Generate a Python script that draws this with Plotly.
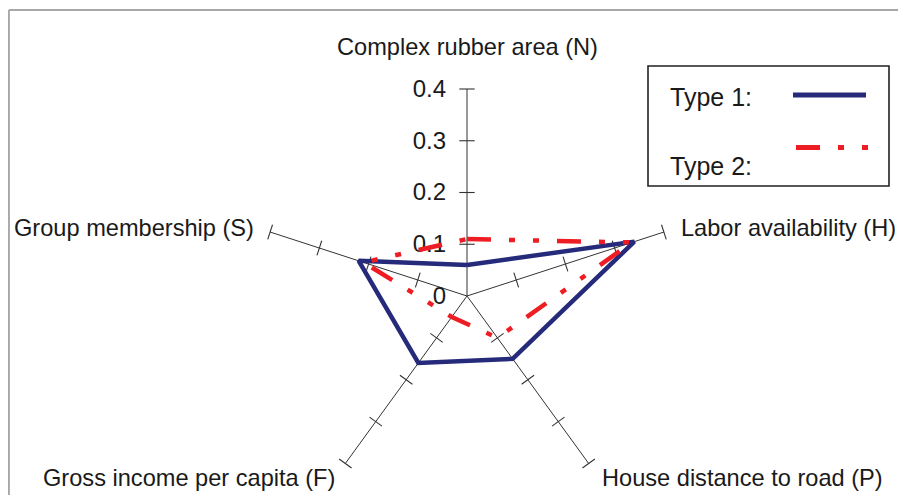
import plotly.graph_objects as go

# ---- data ----
categories = ["Complex rubber area (N)", "Labor availability (H)",
              "House distance to road (P)", "Gross income per capita (F)",
              "Group membership (S)"]
type1_values = [0.06, 0.34, 0.15, 0.16, 0.22]
type2_values = [0.11, 0.335, 0.10, 0.05, 0.21]
radial_tickvals = [0, 0.1, 0.2, 0.3, 0.4]
radial_ticktext = ["0", "0.1", "0.2", "0.3", "0.4"]
series_names = ["Type 1:", "Type 2:"]

# ---- style ----
W, H = 906, 495
OFF = 8  # page body margin offset
BLUE = "#262a7b"
RED = "#ee1d23"
AXIS = "#333333"
TEXT = "#1a1a1a"
FONT = "Liberation Sans, Arial, sans-serif"
RED_DASH = "24px,18px,6px,18px,6px,18px"


def px(x):
    return (x - OFF) / W


def py(y):
    return 1 - (y - OFF) / H


cx, cy = 467 - OFF, 296 - OFF
R = H - cy
dom_x = [(cx - R) / W, (cx + R) / W]
dom_y = [0.0, 1 - (cy - R) / H]


def closed(v):
    return list(v) + [v[0]]


fig = go.Figure()

# spoke tick marks at each radial tick value
tick_r, tick_t, tick_ang = [], [], []
for i, c in enumerate(categories):
    for v in radial_tickvals[1:]:
        tick_r.append(v)
        tick_t.append(c)
        tick_ang.append(72 * i - 90)
fig.add_trace(go.Scatterpolar(
    r=tick_r, theta=tick_t, mode="markers", cliponaxis=False,
    marker=dict(symbol="line-ns", size=11, angle=tick_ang,
                line=dict(color=AXIS, width=1.1)),
    hoverinfo="skip", showlegend=False))

fig.add_trace(go.Scatterpolar(
    r=closed(type1_values), theta=closed(categories), mode="lines",
    name=series_names[0], cliponaxis=False,
    line=dict(color=BLUE, width=4.5)))
fig.add_trace(go.Scatterpolar(
    r=closed(type2_values), theta=closed(categories), mode="lines",
    name=series_names[1], cliponaxis=False,
    line=dict(color=RED, width=4.5, dash=RED_DASH)))

fig.update_layout(
    width=W, height=H,
    margin=dict(l=0, r=0, t=0, b=0),
    paper_bgcolor="white",
    showlegend=False,
    font=dict(family=FONT, size=24, color=TEXT),
    polar=dict(
        domain=dict(x=dom_x, y=dom_y),
        bgcolor="rgba(0,0,0,0)",
        angularaxis=dict(
            type="category", categoryarray=categories,
            direction="clockwise", rotation=90,
            showline=False, showgrid=True, gridcolor=AXIS, gridwidth=1,
            ticks="", showticklabels=False,
            layer="below traces"),
        radialaxis=dict(
            range=[0, 0.4], angle=90, side="counterclockwise",
            tickangle=90,
            tickvals=radial_tickvals, ticktext=radial_ticktext,
            showline=False, showgrid=False,
            ticks="outside", ticklen=12, tickcolor="rgba(0,0,0,0)",
            tickfont=dict(size=24, family=FONT, color=TEXT),
            layer="below traces"),
    ),
)

shapes = [
    # outer chart frame (top + left edges visible)
    dict(type="line", xref="paper", yref="paper", x0=0.001, x1=1.0,
         y0=py(10), y1=py(10), line=dict(color="#a8a8a8", width=2)),
    dict(type="line", xref="paper", yref="paper", x0=0.001, x1=0.001,
         y0=py(10), y1=0, line=dict(color="#a8a8a8", width=2)),
    # legend box
    dict(type="rect", xref="paper", yref="paper", x0=px(648), x1=px(889),
         y0=py(186), y1=py(66), line=dict(color="#222222", width=1.6),
         fillcolor="white"),
    # legend samples
    dict(type="line", xref="paper", yref="paper", x0=px(793), x1=px(866),
         y0=py(95), y1=py(95), line=dict(color=BLUE, width=5)),
    dict(type="line", xref="paper", yref="paper", x0=px(796), x1=px(868),
         y0=py(147.5), y1=py(147.5), line=dict(color=RED, width=5, dash=RED_DASH)),
]
fig.update_layout(shapes=shapes)

# category labels placed beside the spoke ends
label_pos = [  # (x, y, xanchor) in screen pixels
    (467, 47, "center"),
    (679, 228, "left"),
    (600, 478, "left"),
    (337, 478, "right"),
    (256, 228, "right"),
]
for name, (lx, ly, xa) in zip(categories, label_pos):
    fig.add_annotation(text=name, xref="paper", yref="paper",
                       x=px(lx), y=py(ly), xanchor=xa, yanchor="middle",
                       showarrow=False, font=dict(size=23.6, family=FONT, color=TEXT))

fig.add_annotation(text=series_names[0], xref="paper", yref="paper",
                   x=px(668), y=py(97), xanchor="left", yanchor="middle",
                   showarrow=False, font=dict(size=25, family=FONT, color=TEXT))
fig.add_annotation(text=series_names[1], xref="paper", yref="paper",
                   x=px(668), y=py(166), xanchor="left", yanchor="middle",
                   showarrow=False, font=dict(size=25, family=FONT, color=TEXT))

fig.write_html("out.html")
